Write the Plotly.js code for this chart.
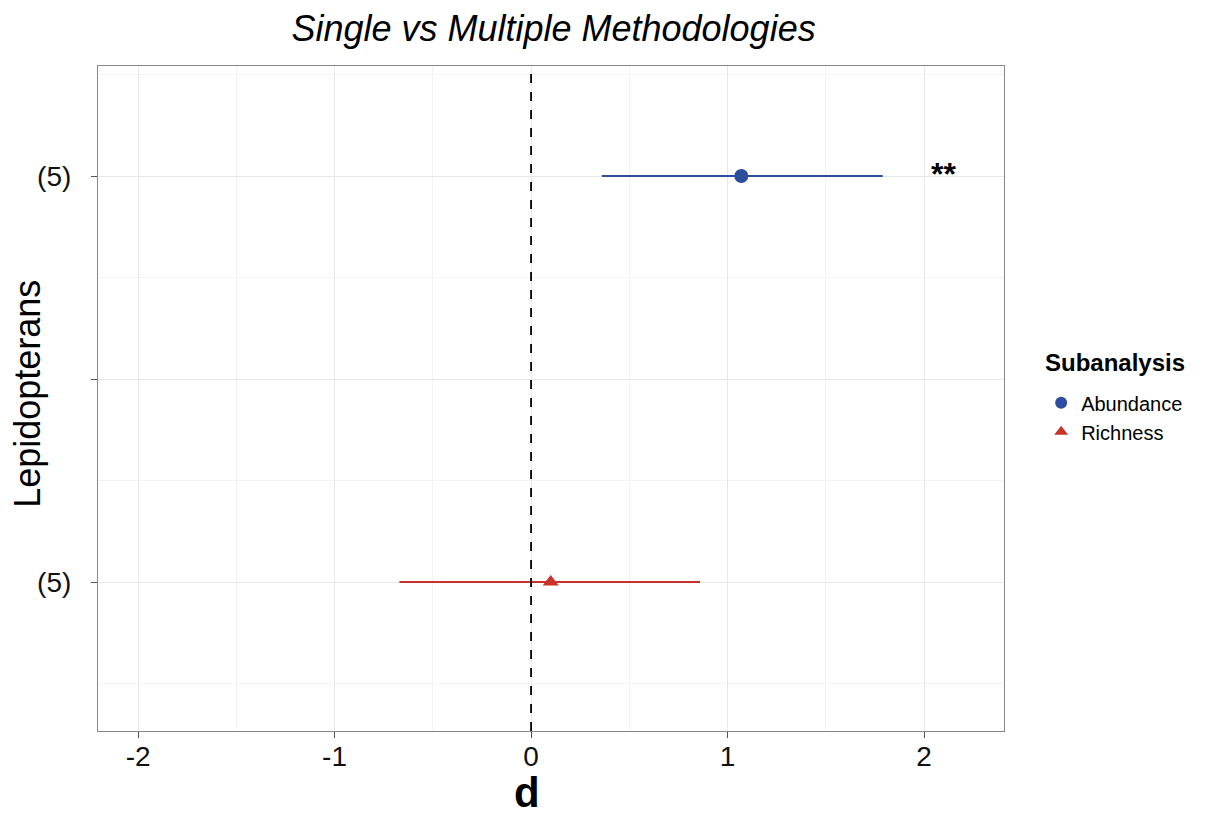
<!DOCTYPE html>
<html>
<head>
<meta charset="utf-8">
<script src="https://cdn.plot.ly/plotly-3.0.1.min.js"></script>
<style>html,body{margin:0;padding:0;background:#fff;}#chart{width:1207px;height:821px;}</style>
</head>
<body>
<div id="chart"></div>
<script>
// Data
const subanalyses = ["Abundance", "Richness"];
const yPos = [3, 1];
const estimates = [1.07, 0.10];
const ciLower = [0.36, -0.67];
const ciUpper = [1.79, 0.86];
const colors = ["#2F4D9E", "#C8322B"];
const symbols = ["circle", "triangle-up"];
const yTickVals = [1, 2, 3];
const yTickText = ["(5)", "", "(5)"];
const sigLabels = ["**", ""];
const sigX = 2.10;

const traces = subanalyses.map((name, i) => ({
  type: "scatter",
  mode: "markers",
  name: name,
  x: [estimates[i]],
  y: [yPos[i]],
  marker: {color: colors[i], size: 14, symbol: symbols[i]},
  error_x: {
    type: "data", symmetric: false,
    array: [ciUpper[i] - estimates[i]],
    arrayminus: [estimates[i] - ciLower[i]],
    color: colors[i], thickness: 2, width: 0
  }
}));

const FONT = "Liberation Sans, Arial, sans-serif";
const annotations = [];
sigLabels.forEach((s, i) => {
  if (s) annotations.push({x: sigX, y: yPos[i], xref: "x", yref: "y", text: "<b>" + s + "</b>",
    showarrow: false, font: {size: 32, color: "#000", family: FONT}, yshift: 2});
});
// axis titles and legend title
annotations.push({x: 0.4735, y: -0.1308, xref: "paper", yref: "paper", text: "<b>d</b>",
  showarrow: false, xanchor: "center", yanchor: "bottom", font: {size: 42, color: "#000", family: FONT}});
annotations.push({x: -0.0773, y: 0.507, xref: "paper", yref: "paper", text: "Lepidopterans",
  textangle: -90, showarrow: false, xanchor: "center", yanchor: "middle", font: {size: 36, color: "#000", family: FONT}});
annotations.push({x: 1.0425, y: 0.554, xref: "paper", yref: "paper", text: "<b>Subanalysis</b>",
  showarrow: false, xanchor: "left", yanchor: "middle", font: {size: 24, color: "#000", family: FONT}});

const layout = {
  width: 1207, height: 821,
  margin: {l: 98, r: 203, t: 66, b: 90},
  paper_bgcolor: "#fff", plot_bgcolor: "#fff",
  font: {family: FONT, color: "#000"},
  title: {text: "<i>Single vs Multiple Methodologies</i>", x: 0.4586, xanchor: "center",
    y: 0.965, yref: "container", yanchor: "middle", font: {size: 36, color: "#000"}},
  xaxis: {
    range: [-2.204, 2.407], tickvals: [-2, -1, 0, 1, 2], ticktext: ["-2", "-1", "0", "1", "2"],
    showgrid: true, gridcolor: "#e8e8e8", gridwidth: 1.2, zeroline: false,
    minor: {tick0: -1.5, dtick: 1, showgrid: true, gridcolor: "#f3f3f3", gridwidth: 1},
    ticks: "outside", ticklen: 6, tickcolor: "#555", tickwidth: 1,
    showline: true, mirror: true, linecolor: "#888", linewidth: 1.2,
    ticklabelstandoff: -6,
    tickfont: {size: 28, color: "#111"}
  },
  yaxis: {
    range: [0.266, 3.542], tickmode: "array", tickvals: yTickVals, ticktext: yTickText,
    showgrid: true, gridcolor: "#e8e8e8", gridwidth: 1.2, zeroline: false,
    minor: {tick0: 0.5, dtick: 1, showgrid: true, gridcolor: "#f3f3f3", gridwidth: 1},
    ticks: "outside", ticklen: 6, tickcolor: "#555", tickwidth: 1,
    showline: true, mirror: true, linecolor: "#888", linewidth: 1.2,
    ticklabelstandoff: 14,
    tickfont: {size: 28, color: "#111"}
  },
  shapes: [{type: "line", xref: "x", yref: "paper", x0: 0, x1: 0, y0: 0, y1: 1,
    line: {color: "#000", width: 1.8, dash: "dash"}, layer: "above"}],
  annotations: annotations,
  showlegend: true,
  legend: {x: 1.041, xanchor: "left", y: 0.523, yanchor: "top", bgcolor: "rgba(0,0,0,0)",
    font: {size: 20}, itemsizing: "constant", tracegroupgap: 4}
};

Plotly.newPlot("chart", traces, layout, {displayModeBar: false});
</script>
</body>
</html>
